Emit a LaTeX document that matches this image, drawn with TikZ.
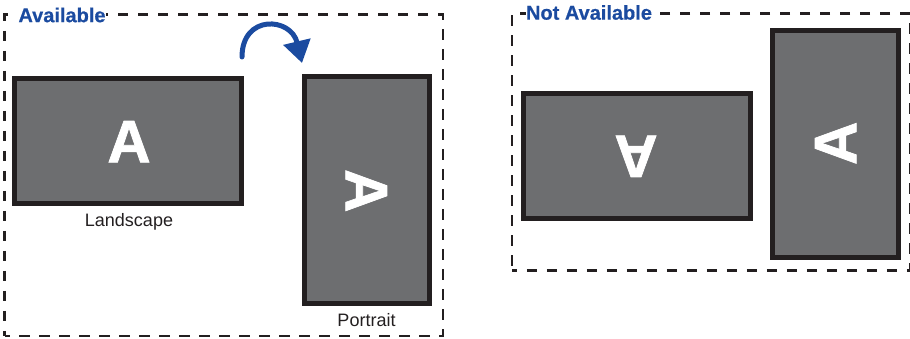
\documentclass[tikz,border=0pt]{standalone}
\usepackage{fontspec}
\setmainfont{Liberation Sans}
\newfontfamily\heavyfont[FakeBold=1.2]{Liberation Sans Bold}
\newfontfamily\midfont[FakeBold=0.4]{Liberation Sans Bold}
\usetikzlibrary{arrows.meta}
\definecolor{screenfill}{HTML}{6D6E70}
\definecolor{screenedge}{HTML}{231F20}
\definecolor{headblue}{HTML}{1B4BA0}
\tikzset{
  x=1pt,y=-1pt,
  framebox/.style={draw=screenedge,line width=2.8pt,dash pattern=on 10.2pt off 9.8pt,dash phase=5.1pt,inner sep=0pt,outer sep=0pt},
  widescreen/.style={draw=screenedge,fill=screenfill,line width=5pt,minimum width=227pt,minimum height=125.5pt,inner sep=0pt},
  tallscreen/.style={draw=screenedge,fill=screenfill,line width=5pt,minimum width=125.5pt,minimum height=227pt,inner sep=0pt},
  bigletter/.style={text=white,inner sep=0pt,font=\fontsize{60}{60}\heavyfont\selectfont},
  heading/.style={text=headblue,fill=white,inner sep=0.5pt,font=\fontsize{20}{20}\midfont\selectfont,anchor=center},
  caption/.style={text=screenedge,inner sep=0pt,font=\fontsize{18}{18}\selectfont,anchor=center},
  turnarrow/.style={draw=headblue,line width=5pt,line cap=round,-{Triangle[length=22pt,width=27pt,fill=headblue]}}
}
\begin{document}
\begin{tikzpicture}
\useasboundingbox (0,0) rectangle (910,339);
% dashed frames
\node[framebox,minimum width=438.5pt,minimum height=321.5pt] (availframe) at (223.75,175.25) {};
\node[framebox,minimum width=398pt,minimum height=257pt] (naframe) at (711,142) {};
\node[heading] (availlabel) at (62,15) {Available};
\node[heading] (nalabel) at (589,12.5) {Not Available};
% screens
\node[widescreen] (land) at (128,141.25) {};
\node[tallscreen] (port) at (366.75,190) {};
\node[widescreen] (landflip) at (637,156.25) {};
\node[tallscreen] (portflip) at (835.5,144) {};
% letters
\node[bigletter] (la) at (129,141.7) {A};
\node[bigletter,rotate=-90] (pa) at (366.3,190.8) {A};
\node[bigletter,rotate=180] (lfa) at (636,156.3) {A};
\node[bigletter,rotate=90] (pfa) at (835.7,143.3) {A};
% captions
\node[caption] (landcap) at (129,222) {Landscape};
\node[caption] (portcap) at (366.5,320.5) {Portrait};
% arrow
\coordinate (arrowstart) at (242,57);
\coordinate (arrowend) at (302,63);
\draw[turnarrow] (arrowstart) .. controls (242,14) and (291,17) .. (arrowend);
\end{tikzpicture}
\end{document}
